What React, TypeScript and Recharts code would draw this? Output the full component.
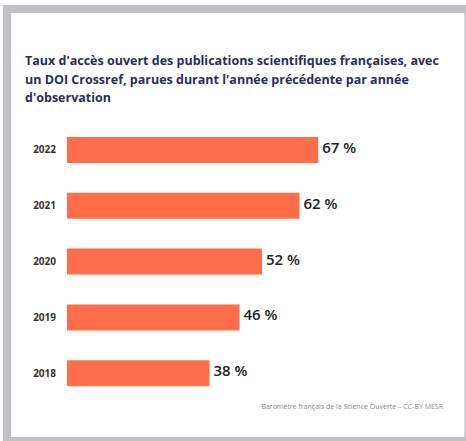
import { BarChart, Bar, XAxis, YAxis, LabelList } from 'recharts'

const years = ['2022', '2021', '2020', '2019', '2018']
const openAccessRate = [67, 62, 52, 46, 38]

const titleText =
  "Taux d'accès ouvert des publications scientifiques françaises, avec un DOI Crossref, parues durant l'année précédente par année d'observation"
const sourceText = 'Baromètre français de la Science Ouverte – CC-BY MESR'

const data = years.map((y, i) => ({ year: y, rate: openAccessRate[i] }))

const font = '"Open Sans", "Noto Sans", sans-serif'

function RateLabel(props: any) {
  const { x, y, width, height, value } = props
  return (
    <text
      x={x + width + 4}
      y={y + height / 2 - 3}
      dominantBaseline="central"
      fill="#222"
      fontSize={15}
      fontWeight={600}
      fontFamily={font}
    >
      {`${value} %`}
    </text>
  )
}

export default function App() {
  return (
    <div style={{ position: 'absolute', left: 0, top: 0, width: 466, height: 441, background: '#fff', overflow: 'hidden' }}>
      {/* grey frame */}
      <div style={{ position: 'absolute', left: 3, top: 5, width: 463, height: 436, background: '#c0c0c4' }} />
      <div style={{ position: 'absolute', left: 11, top: 13, width: 453, height: 424, background: '#fff', borderRight: '1px solid #dcdcdc' }} />

      <div
        style={{
          position: 'absolute',
          left: 25,
          top: 52,
          width: 425,
          fontFamily: font,
          fontWeight: 700,
          fontSize: 12.5,
          lineHeight: '18.5px',
          color: '#2b2d5c',
        }}
      >
        {titleText}
      </div>

      <div style={{ position: 'absolute', left: 0, top: 0 }}>
        <BarChart
          width={466}
          height={441}
          layout="vertical"
          data={data}
          margin={{ top: 122, right: 24, bottom: 40, left: 0 }}
        >
          <XAxis type="number" domain={[0, 100]} hide />
          <YAxis
            type="category"
            dataKey="year"
            width={67}
            axisLine={false}
            tickLine={false}
            tickMargin={5}
            tick={{ fontSize: 10, fontWeight: 700, fill: '#333', fontFamily: font }}
          />
          <Bar dataKey="rate" fill="#ff6e4a" barSize={26} isAnimationActive={false}>
            <LabelList dataKey="rate" content={RateLabel} />
          </Bar>
        </BarChart>
      </div>

      <div
        style={{
          position: 'absolute',
          right: 466 - 443,
          top: 402,
          fontFamily: font,
          fontSize: 7,
          color: '#888',
          whiteSpace: 'nowrap',
        }}
      >
        {sourceText}
      </div>
    </div>
  )
}
